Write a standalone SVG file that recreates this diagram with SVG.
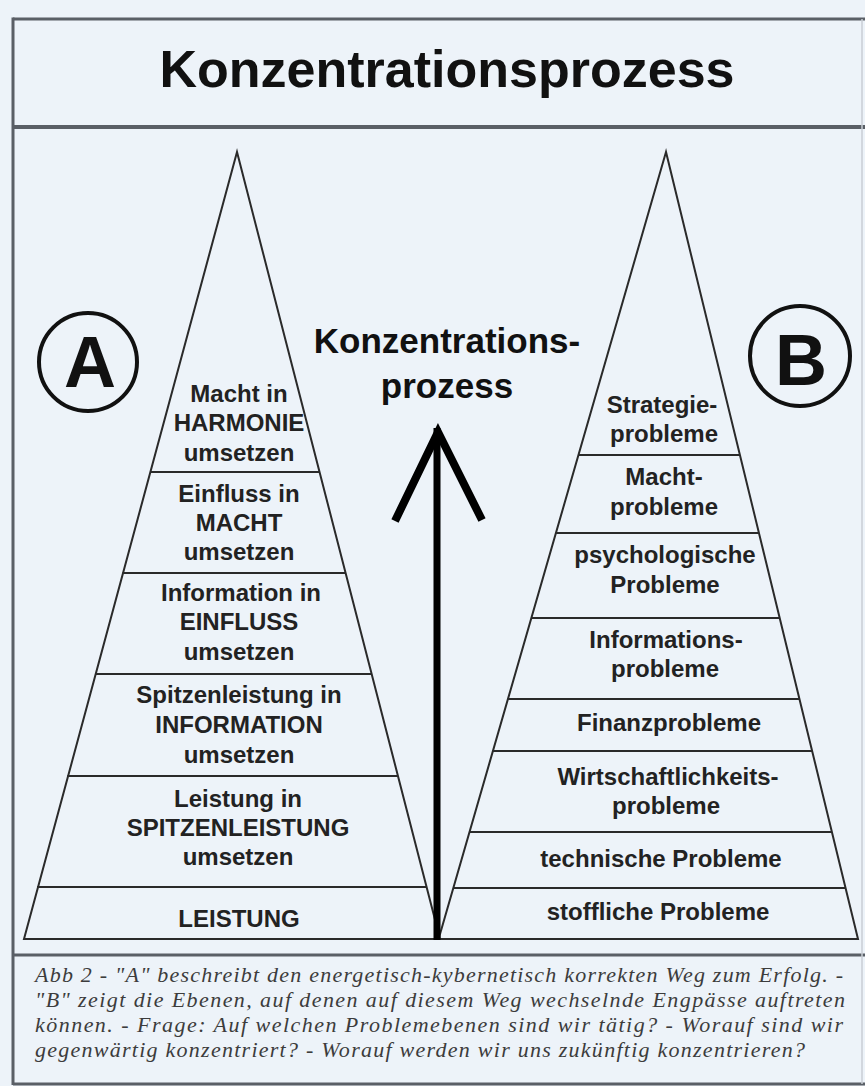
<svg xmlns="http://www.w3.org/2000/svg" width="865" height="1086" viewBox="0 0 865 1086">
<style>
.frame{stroke:#5a5f66;stroke-width:3;fill:none}
.pyr{stroke:#2a2a2a;stroke-width:2;fill:none;stroke-linejoin:miter}
.lbl{font-family:"Liberation Sans",Arial,sans-serif;font-weight:bold;font-size:24px;fill:#222;text-anchor:middle}
.big{font-family:"Liberation Sans",Arial,sans-serif;font-weight:bold;fill:#111;text-anchor:middle}
.cap{font-family:"Liberation Serif","Times New Roman",serif;font-style:italic;font-size:22px;fill:#3c3c3c}
</style>
<rect x="0" y="0" width="865" height="1086" fill="#edf3f9"/>
<g id="frame">
<line class="frame" x1="13" y1="19" x2="865" y2="19"/>
<line class="frame" x1="13" y1="17.5" x2="13" y2="1085"/>
<line class="frame" x1="13" y1="1084" x2="865" y2="1084"/>
<line class="frame" x1="13" y1="127" x2="865" y2="127" style="stroke-width:4"/>
<line class="frame" x1="13" y1="955" x2="865" y2="955"/>
<line x1="862" y1="19" x2="862" y2="1084" stroke="#c9ced5" stroke-width="1.5"/>
</g>
<g id="title">
<text class="big" x="447" y="87" font-size="52">Konzentrationsprozess</text>
</g>
<g id="pyramid-A">
<polygon class="pyr" points="237,152 24,939 440,939"/>
<line class="pyr" x1="150" y1="472" x2="320" y2="472"/>
<line class="pyr" x1="122.5" y1="573" x2="345.6" y2="573"/>
<line class="pyr" x1="95" y1="674" x2="371.7" y2="674"/>
<line class="pyr" x1="67.3" y1="776" x2="398" y2="776"/>
<line class="pyr" x1="37" y1="887" x2="426.6" y2="887"/>
<text class="lbl" x="239" y="402">Macht in</text>
<text class="lbl" x="239" y="431">HARMONIE</text>
<text class="lbl" x="239" y="461">umsetzen</text>
<text class="lbl" x="239" y="502">Einfluss in</text>
<text class="lbl" x="239" y="531">MACHT</text>
<text class="lbl" x="239" y="560">umsetzen</text>
<text class="lbl" x="241" y="601">Information in</text>
<text class="lbl" x="239" y="630">EINFLUSS</text>
<text class="lbl" x="239" y="660">umsetzen</text>
<text class="lbl" x="239" y="703">Spitzenleistung in</text>
<text class="lbl" x="239" y="733">INFORMATION</text>
<text class="lbl" x="239" y="763">umsetzen</text>
<text class="lbl" x="238" y="807">Leistung in</text>
<text class="lbl" x="238" y="836">SPITZENLEISTUNG</text>
<text class="lbl" x="238" y="865">umsetzen</text>
<text class="lbl" x="239" y="927">LEISTUNG</text>
</g>
<g id="pyramid-B">
<polygon class="pyr" points="666,152 438.6,939 858,939"/>
<line class="pyr" x1="578.4" y1="455" x2="740" y2="455"/>
<line class="pyr" x1="555.9" y1="533" x2="759" y2="533"/>
<line class="pyr" x1="531.3" y1="618" x2="779.7" y2="618"/>
<line class="pyr" x1="507.9" y1="699" x2="799.5" y2="699"/>
<line class="pyr" x1="492.9" y1="751" x2="812.2" y2="751"/>
<line class="pyr" x1="469.5" y1="832" x2="831.9" y2="832"/>
<line class="pyr" x1="453.3" y1="888" x2="845.6" y2="888"/>
<line class="pyr" x1="24" y1="939" x2="858" y2="939"/>
<text class="lbl" x="662" y="413">Strategie-</text>
<text class="lbl" x="664" y="442">probleme</text>
<text class="lbl" x="664" y="485">Macht-</text>
<text class="lbl" x="664" y="515">probleme</text>
<text class="lbl" x="665" y="563">psychologische</text>
<text class="lbl" x="665" y="593">Probleme</text>
<text class="lbl" x="666" y="648">Informations-</text>
<text class="lbl" x="665" y="677">probleme</text>
<text class="lbl" x="669" y="731">Finanzprobleme</text>
<text class="lbl" x="668" y="785">Wirtschaftlichkeits-</text>
<text class="lbl" x="666" y="814">probleme</text>
<text class="lbl" x="661" y="867">technische Probleme</text>
<text class="lbl" x="658" y="920">stoffliche Probleme</text>
</g>
<g id="label-A">
<circle cx="88" cy="362" r="49" fill="none" stroke="#111" stroke-width="4"/>
<text class="big" x="90" y="387" font-size="72">A</text>
</g>
<g id="label-B">
<circle cx="800" cy="356" r="50" fill="none" stroke="#111" stroke-width="4"/>
<text class="big" x="801" y="385" font-size="72">B</text>
</g>
<g id="process-label">
<text class="big" x="447" y="353" font-size="35">Konzentrations-</text>
<text class="big" x="447" y="398" font-size="35">prozess</text>
</g>
<g id="connectors">
<line x1="437" y1="940" x2="437" y2="428" stroke="#000" stroke-width="7"/>
<polyline points="395,521 438,432 482,520" fill="none" stroke="#000" stroke-width="8" stroke-linejoin="miter" stroke-miterlimit="6"/>
</g>
<g id="caption">
<text class="cap" x="35" y="982" textLength="808" lengthAdjust="spacing">Abb 2 - "A" beschreibt den energetisch-kybernetisch korrekten Weg zum Erfolg. -</text>
<text class="cap" x="35" y="1007" textLength="810" lengthAdjust="spacing">"B" zeigt die Ebenen, auf denen auf diesem Weg wechselnde Engpässe auftreten</text>
<text class="cap" x="35" y="1032" textLength="808" lengthAdjust="spacing">können. - Frage: Auf welchen Problemebenen sind wir tätig? - Worauf sind wir</text>
<text class="cap" x="35" y="1057" textLength="770" lengthAdjust="spacing">gegenwärtig konzentriert? - Worauf werden wir uns zukünftig konzentrieren?</text>
</g>
</svg>
